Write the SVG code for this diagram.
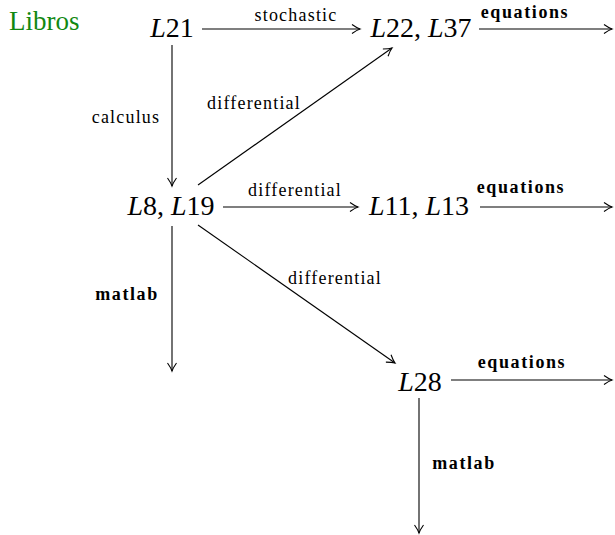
<svg xmlns="http://www.w3.org/2000/svg" width="615" height="535" viewBox="0 0 615 535">
<defs>
<style>
.m{font-family:"Liberation Serif","Times New Roman","DejaVu Serif",serif;font-size:28px;fill:#000;text-anchor:middle}
.i{font-style:italic}
.l{font-family:"Liberation Serif","Times New Roman","DejaVu Serif",serif;font-size:18px;letter-spacing:1.2px;fill:#000;text-anchor:middle}
.b{font-family:"Liberation Serif","Times New Roman","DejaVu Serif",serif;font-size:18px;letter-spacing:1.6px;font-weight:bold;fill:#000;text-anchor:middle}
.e{stroke:#000;stroke-width:1.1;fill:none;marker-end:url(#ah)}
</style>
<marker id="ah" viewBox="-10 -6 12 12" refX="0" refY="0" markerWidth="12" markerHeight="12" markerUnits="userSpaceOnUse" orient="auto">
<path d="M-8,-4.5 Q-3,-1 0,0 Q-3,1 -8,4.5" fill="none" stroke="#000" stroke-width="1.1"/>
</marker>
</defs>
<text x="9" y="30" font-family="'Liberation Serif','Times New Roman',serif" font-size="27" fill="#118811">Libros</text>
<g id="connectors">
<line class="e" x1="202" y1="29" x2="360" y2="29"/>
<line class="e" x1="479" y1="29" x2="612" y2="29"/>
<line class="e" x1="172" y1="45" x2="172" y2="186"/>
<line class="e" x1="198" y1="185" x2="392" y2="48"/>
<line class="e" x1="223" y1="207" x2="358" y2="207"/>
<line class="e" x1="480" y1="207" x2="612" y2="207"/>
<line class="e" x1="198" y1="225" x2="395" y2="363"/>
<line class="e" x1="172" y1="226" x2="172" y2="371"/>
<line class="e" x1="451" y1="380" x2="612" y2="380"/>
<line class="e" x1="419" y1="398" x2="419" y2="533"/>
<text class="l" x="296" y="21">stochastic</text>
<text class="b" x="525" y="18">equations</text>
<text class="l" x="126" y="123">calculus</text>
<text class="l" x="254" y="109">differential</text>
<text class="l" x="295" y="196">differential</text>
<text class="b" x="521" y="193">equations</text>
<text class="l" x="335" y="284">differential</text>
<text class="b" x="127" y="300">matlab</text>
<text class="b" x="522" y="368">equations</text>
<text class="b" x="464" y="469">matlab</text>
</g>
<g id="L21"><text class="m" x="172" y="37"><tspan class="i">L</tspan>21</text></g>
<g id="L22L37"><text class="m" x="421" y="37"><tspan class="i">L</tspan>22, <tspan class="i">L</tspan>37</text></g>
<g id="L8L19"><text class="m" x="171" y="215"><tspan class="i">L</tspan>8, <tspan class="i">L</tspan>19</text></g>
<g id="L11L13"><text class="m" x="419" y="215"><tspan class="i">L</tspan>11, <tspan class="i">L</tspan>13</text></g>
<g id="L28"><text class="m" x="420" y="391"><tspan class="i">L</tspan>28</text></g>
</svg>
